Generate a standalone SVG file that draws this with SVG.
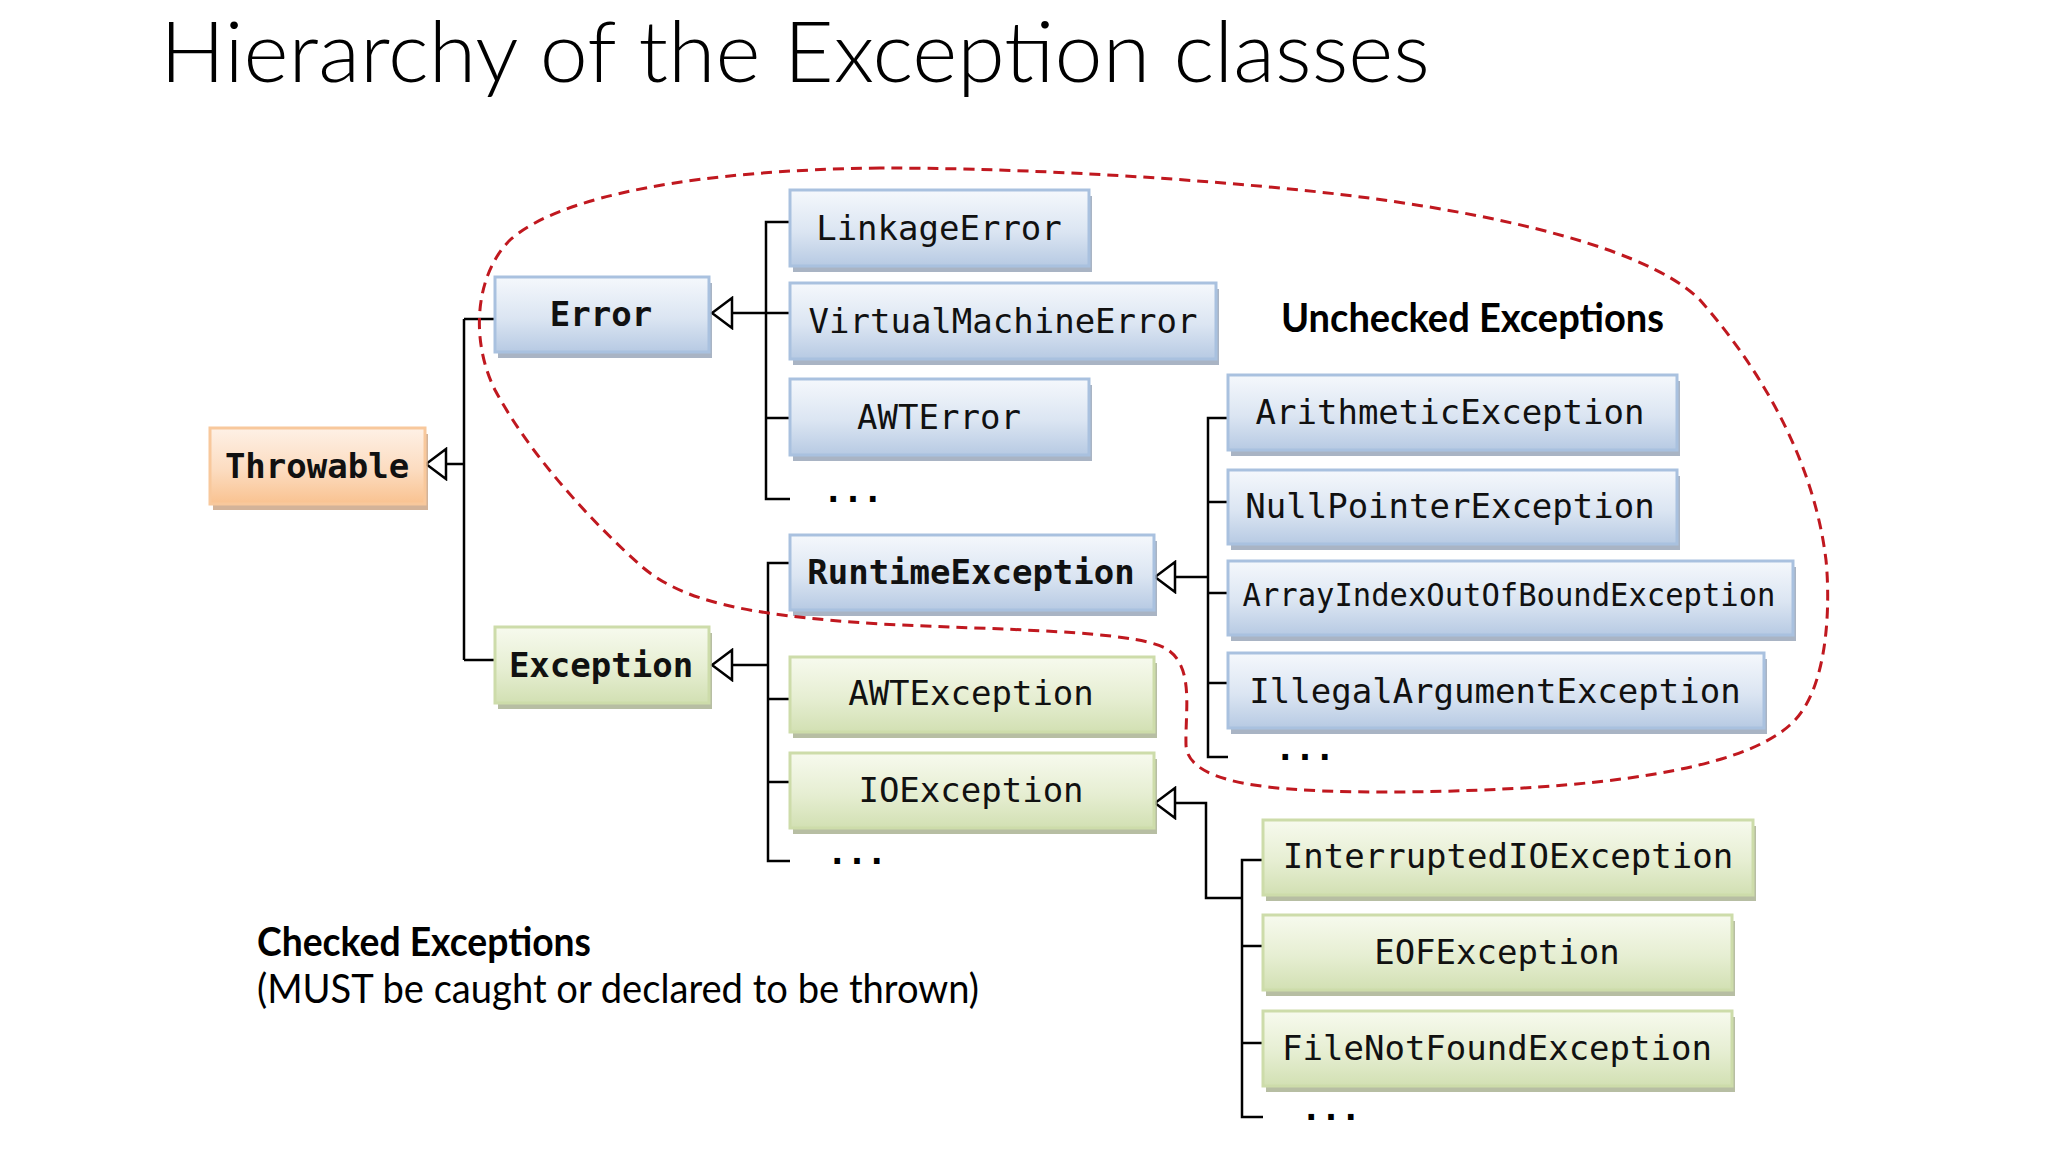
<svg xmlns="http://www.w3.org/2000/svg" width="2048" height="1152" viewBox="0 0 2048 1152">
<defs>
<linearGradient id="gb" x1="0" y1="0" x2="0" y2="1"><stop offset="0" stop-color="#f5f8fc"/><stop offset="0.55" stop-color="#dbe5f2"/><stop offset="1" stop-color="#b7cae3"/></linearGradient>
<linearGradient id="gg" x1="0" y1="0" x2="0" y2="1"><stop offset="0" stop-color="#f7faee"/><stop offset="0.55" stop-color="#e6eed2"/><stop offset="1" stop-color="#d2e0b3"/></linearGradient>
<linearGradient id="go" x1="0" y1="0" x2="0" y2="1"><stop offset="0" stop-color="#fef1e6"/><stop offset="0.55" stop-color="#fcdcc0"/><stop offset="1" stop-color="#f9c290"/></linearGradient>
<marker id="tri" viewBox="0 0 24 34" refX="22" refY="17" markerWidth="24" markerHeight="34" markerUnits="userSpaceOnUse" orient="auto"><path d="M22,17 L2,2 L2,32 Z" fill="#ffffff" stroke="#000" stroke-width="2.5" stroke-linejoin="miter"/></marker>
</defs>
<style>
.title{font-family:Lato,"Open Sans","Liberation Sans",sans-serif;font-weight:300;font-size:84px;fill:#000}
.lbl{font-family:Lato,"Liberation Sans",sans-serif;font-size:40px;fill:#000}
.b{font-weight:bold}
.t{font-family:"DejaVu Sans Mono","Liberation Mono",monospace;font-size:34px;fill:#111;text-anchor:middle}
.dots{font-family:"DejaVu Sans Mono","Liberation Mono",monospace;font-size:34px;font-weight:bold;fill:#000}
.sh{fill:#8c9bb0;opacity:0.75}
.shg{fill:#a5ae8c;opacity:0.8}
.sho{fill:#c8a080;opacity:0.8}
.bx{fill:url(#gb);stroke:#a9c1df;stroke-width:3}
.gx{fill:url(#gg);stroke:#cddcaa;stroke-width:3}
.ox{fill:url(#go);stroke:#f8c89c;stroke-width:3}
.c{fill:none;stroke:#000;stroke-width:2.5}
.cur{fill:none;stroke:#c0181f;stroke-width:3;stroke-dasharray:11 7}
</style>
<rect width="2048" height="1152" fill="#ffffff"/>
<text class="title" x="160" y="82" textLength="1270" lengthAdjust="spacingAndGlyphs">Hierarchy of the Exception classes</text>

<g id="connectors">
<path class="c" d="M464,464 H426" marker-end="url(#tri)"/>
<path class="c" d="M464,319 V660 M464,319 H495 M464,660 H495"/>
<path class="c" d="M766,313 H712" marker-end="url(#tri)"/>
<path class="c" d="M790,222 H766 V499 H790 M766,313 H790 M766,418 H790"/>
<path class="c" d="M768,665 H712" marker-end="url(#tri)"/>
<path class="c" d="M790,563 H768 V861 H790 M768,699 H790 M768,782 H790"/>
<path class="c" d="M1208,577 H1155" marker-end="url(#tri)"/>
<path class="c" d="M1228,418 H1208 V757 H1228 M1208,502 H1228 M1208,593 H1228 M1208,683 H1228"/>
<path class="c" d="M1242,898 H1206 V803 H1155" marker-end="url(#tri)"/>
<path class="c" d="M1263,860 H1242 V1117 H1263 M1242,946 H1263 M1242,1043 H1263"/>
</g>

<g id="throwable"><rect class="sho" x="213" y="434" width="215" height="76"/><rect class="ox" x="210" y="428" width="215" height="76"/><text class="t b" x="317" y="478">Throwable</text></g>
<g id="error"><rect class="sh" x="498" y="283" width="214" height="75"/><rect class="bx" x="495" y="277" width="214" height="75"/><text class="t b" x="601" y="326">Error</text></g>
<g id="exception"><rect class="shg" x="498" y="633" width="214" height="76"/><rect class="gx" x="495" y="627" width="214" height="76"/><text class="t b" x="601" y="677">Exception</text></g>

<g id="linkageerror"><rect class="sh" x="793" y="196" width="299" height="76"/><rect class="bx" x="790" y="190" width="299" height="76"/><text class="t" x="939" y="240">LinkageError</text></g>
<g id="virtualmachineerror"><rect class="sh" x="793" y="289" width="426" height="76"/><rect class="bx" x="790" y="283" width="426" height="76"/><text class="t" x="1003" y="333">VirtualMachineError</text></g>
<g id="awterror"><rect class="sh" x="793" y="385" width="299" height="76"/><rect class="bx" x="790" y="379" width="299" height="76"/><text class="t" x="939" y="429">AWTError</text></g>
<text class="dots" x="823" y="502" textLength="60">...</text>

<g id="runtimeexception"><rect class="sh" x="793" y="541" width="364" height="75"/><rect class="bx" x="790" y="535" width="364" height="75"/><text class="t b" x="971" y="584">RuntimeException</text></g>
<g id="awtexception"><rect class="shg" x="793" y="663" width="364" height="75"/><rect class="gx" x="790" y="657" width="364" height="75"/><text class="t" x="971" y="705">AWTException</text></g>
<g id="ioexception"><rect class="shg" x="793" y="759" width="364" height="75"/><rect class="gx" x="790" y="753" width="364" height="75"/><text class="t" x="971" y="802">IOException</text></g>
<text class="dots" x="827" y="864" textLength="60">...</text>

<g id="arithmeticexception"><rect class="sh" x="1231" y="381" width="449" height="75"/><rect class="bx" x="1228" y="375" width="449" height="75"/><text class="t" x="1450" y="424">ArithmeticException</text></g>
<g id="nullpointerexception"><rect class="sh" x="1231" y="476" width="449" height="74"/><rect class="bx" x="1228" y="470" width="449" height="74"/><text class="t" x="1450" y="518">NullPointerException</text></g>
<g id="arrayindexoutofboundexception"><rect class="sh" x="1231" y="567" width="565" height="74"/><rect class="bx" x="1228" y="561" width="565" height="74"/><text class="t" x="1509" y="606" style="font-size:32px" textLength="533" lengthAdjust="spacingAndGlyphs">ArrayIndexOutOfBoundException</text></g>
<g id="illegalargumentexception"><rect class="sh" x="1231" y="659" width="536" height="75"/><rect class="bx" x="1228" y="653" width="536" height="75"/><text class="t" x="1495" y="703">IllegalArgumentException</text></g>
<text class="dots" x="1275" y="760" textLength="60">...</text>

<g id="interruptedioexception"><rect class="shg" x="1266" y="826" width="490" height="75"/><rect class="gx" x="1263" y="820" width="490" height="75"/><text class="t" x="1508" y="868">InterruptedIOException</text></g>
<g id="eofexception"><rect class="shg" x="1266" y="921" width="469" height="75"/><rect class="gx" x="1263" y="915" width="469" height="75"/><text class="t" x="1497" y="964">EOFException</text></g>
<g id="filenotfoundexception"><rect class="shg" x="1266" y="1017" width="469" height="75"/><rect class="gx" x="1263" y="1011" width="469" height="75"/><text class="t" x="1497" y="1060">FileNotFoundException</text></g>
<text class="dots" x="1301" y="1120" textLength="60">...</text>

<path class="cur" d="M880,168 C700,170 560,195 510,240 C475,275 470,340 495,390 C530,455 590,520 640,565 C680,600 740,615 880,624 C1000,630 1130,630 1165,648 C1195,665 1185,710 1186,745 C1188,790 1300,792 1400,792 C1600,790 1740,770 1790,725 C1830,690 1830,600 1826,560 C1815,470 1770,380 1700,300 C1640,240 1450,205 1300,190 C1150,175 1000,168 880,168 Z"/>

<text class="lbl b" x="1281" y="332" textLength="383" lengthAdjust="spacingAndGlyphs">Unchecked Exceptions</text>
<text class="lbl b" x="257" y="956" textLength="334" lengthAdjust="spacingAndGlyphs">Checked Exceptions</text>
<text class="lbl" x="257" y="1003" textLength="722" lengthAdjust="spacingAndGlyphs">(MUST be caught or declared to be thrown)</text>
</svg>
